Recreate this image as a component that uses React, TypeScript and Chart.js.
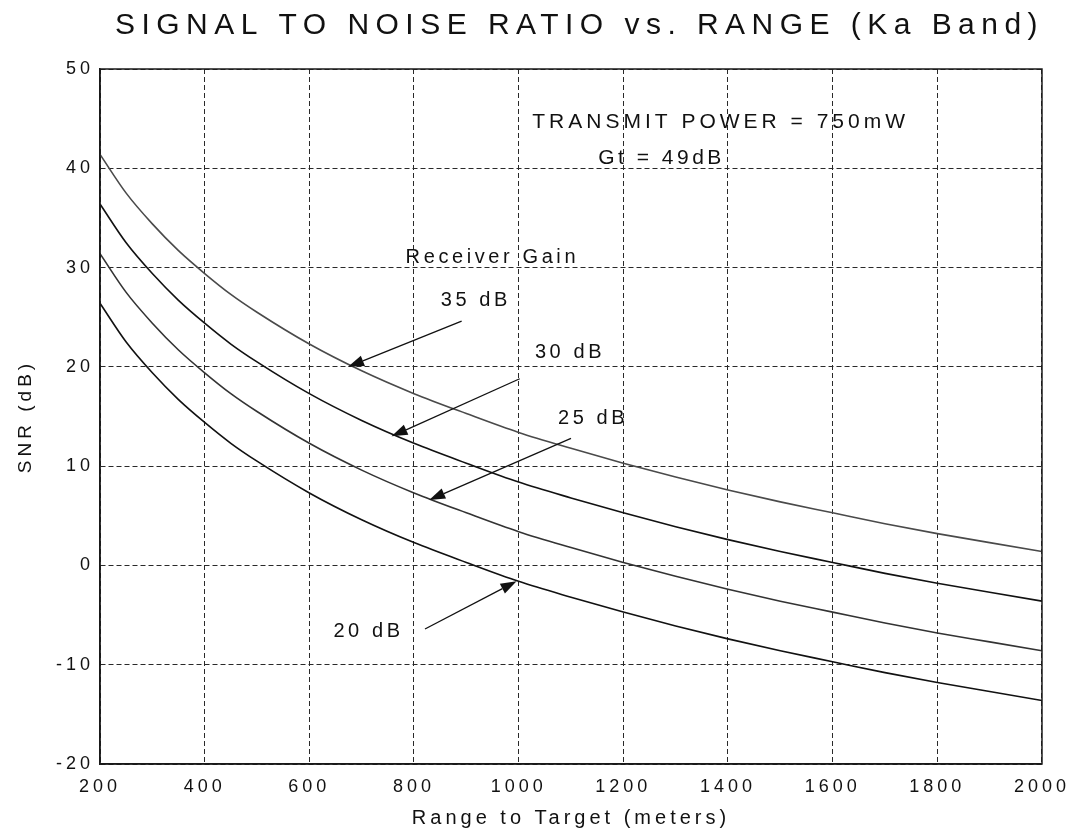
import React, { useEffect, useRef } from "react";
import { Chart, registerables } from "chart.js";

Chart.register(...registerables);

// ---- data ----
const ranges = [200, 250, 300, 350, 400, 450, 500, 600, 700, 800, 900, 1000, 1100, 1200, 1300, 1400, 1500, 1600, 1700, 1800, 1900, 2000];
const snr35 = [41.4, 37.5, 34.4, 31.7, 29.4, 27.3, 25.5, 22.3, 19.6, 17.3, 15.3, 13.4, 11.8, 10.3, 8.9, 7.6, 6.4, 5.3, 4.2, 3.2, 2.3, 1.4];
const snr30 = [36.4, 32.5, 29.4, 26.7, 24.4, 22.3, 20.5, 17.3, 14.6, 12.3, 10.3, 8.4, 6.8, 5.3, 3.9, 2.6, 1.4, 0.3, -0.8, -1.8, -2.7, -3.6];
const snr25 = [31.4, 27.5, 24.4, 21.7, 19.4, 17.3, 15.5, 12.3, 9.6, 7.3, 5.3, 3.4, 1.8, 0.3, -1.1, -2.4, -3.6, -4.7, -5.8, -6.8, -7.7, -8.6];
const snr20 = [26.4, 22.5, 19.4, 16.7, 14.4, 12.3, 10.5, 7.3, 4.6, 2.3, 0.3, -1.6, -3.2, -4.7, -6.1, -7.4, -8.6, -9.7, -10.8, -11.8, -12.7, -13.6];

const xTickValues = [200, 400, 600, 800, 1000, 1200, 1400, 1600, 1800, 2000];
const yTickValues = [-20, -10, 0, 10, 20, 30, 40, 50];

const titleText = "SIGNAL TO NOISE RATIO vs. RANGE (Ka Band)";
const xTitle = "Range to Target (meters)";
const yTitle = "SNR (dB)";

// annotation texts, anchored in data coordinates (left edge, vertical middle)
const noteTexts = ["TRANSMIT POWER = 750mW", "Gt = 49dB", "Receiver Gain", "35 dB", "30 dB", "25 dB", "20 dB"];
const noteRanges = [1026, 1152, 784, 851, 1031, 1075, 646];
const noteSnrs = [44.6, 41.0, 31.0, 26.7, 21.4, 14.8, -6.7];
const noteSizes = [21, 21, 20, 20, 20, 20, 20];
const noteSpacing = [4, 3.5, 3.6, 3.6, 3.6, 3.6, 3.6];

// arrows: tail -> tip in data coordinates
const arrowFromR = [891, 1002, 1100, 821];
const arrowFromV = [24.6, 18.8, 12.8, -6.4];
const arrowToR = [674, 757, 829, 996];
const arrowToV = [20.0, 13.0, 6.6, -1.6];

const FONT = '"Liberation Sans", Arial, Helvetica, sans-serif';

const sketchPlugin = {
  id: "sketch",
  beforeDraw(chart: any) {
    const ctx = chart.ctx;
    ctx.fillStyle = "#ffffff";
    ctx.fillRect(0, 0, chart.width, chart.height);
    ctx.letterSpacing = "4px";
  },
  afterDraw(chart: any) {
    const ctx = chart.ctx;
    const a = chart.chartArea;
    const xs = chart.scales.x;
    const ys = chart.scales.y;
    ctx.save();
    ctx.letterSpacing = "0px";
    ctx.setLineDash([]);
    // solid frame
    ctx.strokeStyle = "#1a1a1a";
    ctx.lineWidth = 1.5;
    ctx.strokeRect(a.left, a.top, a.right - a.left, a.bottom - a.top);

    // title
    ctx.fillStyle = "#111";
    ctx.font = `30px ${FONT}`;
    ctx.textAlign = "left";
    ctx.textBaseline = "alphabetic";
    const w0 = ctx.measureText(titleText).width;
    const sp = (929 - w0) / titleText.length;
    ctx.letterSpacing = `${sp}px`;
    ctx.fillText(titleText, 115, 34);

    // notes
    ctx.textBaseline = "middle";
    for (let i = 0; i < noteTexts.length; i++) {
      ctx.font = `${noteSizes[i]}px ${FONT}`;
      ctx.letterSpacing = `${noteSpacing[i]}px`;
      ctx.fillText(noteTexts[i], xs.getPixelForValue(noteRanges[i]), ys.getPixelForValue(noteSnrs[i]));
    }

    // arrows
    ctx.letterSpacing = "0px";
    ctx.strokeStyle = "#111";
    ctx.lineWidth = 1.3;
    for (let i = 0; i < arrowFromR.length; i++) {
      const x0 = xs.getPixelForValue(arrowFromR[i]);
      const y0 = ys.getPixelForValue(arrowFromV[i]);
      const x1 = xs.getPixelForValue(arrowToR[i]);
      const y1 = ys.getPixelForValue(arrowToV[i]);
      const dx = x1 - x0;
      const dy = y1 - y0;
      const len = Math.hypot(dx, dy);
      const ux = dx / len;
      const uy = dy / len;
      const head = 16;
      const half = 5.5;
      const bx = x1 - ux * head;
      const by = y1 - uy * head;
      ctx.beginPath();
      ctx.moveTo(x0, y0);
      ctx.lineTo(bx, by);
      ctx.stroke();
      ctx.beginPath();
      ctx.moveTo(x1, y1);
      ctx.lineTo(bx - uy * half, by + ux * half);
      ctx.lineTo(bx + uy * half, by - ux * half);
      ctx.closePath();
      ctx.fill();
    }
    ctx.restore();
  },
};

export default function App() {
  const ref = useRef<HTMLCanvasElement | null>(null);

  useEffect(() => {
    if (!ref.current) return;
    const mk = (label: string, data: number[], color: string) => ({
      label,
      data: ranges.map((r, i) => ({ x: r, y: data[i] })),
      borderColor: color,
      backgroundColor: color,
      borderWidth: 1.6,
      pointRadius: 0,
      cubicInterpolationMode: "monotone" as const,
      fill: false,
    });
    const chart = new Chart(ref.current, {
      type: "line",
      data: {
        datasets: [
          mk("35 dB", snr35, "#4a4a4a"),
          mk("30 dB", snr30, "#111111"),
          mk("25 dB", snr25, "#333333"),
          mk("20 dB", snr20, "#111111"),
        ],
      },
      options: {
        animation: false,
        responsive: false,
        devicePixelRatio: 1,
        layout: { padding: { top: 69, right: 29, left: 0, bottom: 0 } },
        plugins: {
          legend: { display: false },
          tooltip: { enabled: false },
          title: { display: false },
        },
        scales: {
          x: {
            type: "linear",
            min: 200,
            max: 2000,
            afterFit: (s: any) => {
              s.height = 74;
            },
            afterBuildTicks: (s: any) => {
              s.ticks = xTickValues.map((v) => ({ value: v }));
            },
            ticks: {
              autoSkip: false,
              maxRotation: 0,
              padding: 12,
              color: "#111",
              font: { family: FONT, size: 18 },
              callback: (v: any) => String(v),
            },
            grid: { color: "#2a2a2a", lineWidth: 1, drawTicks: false },
            border: { display: true, color: "#1a1a1a", width: 1.5, dash: [5, 3] },
            title: {
              display: true,
              text: xTitle,
              color: "#111",
              font: { family: FONT, size: 20 },
              padding: { top: 0, bottom: 8 },
            },
          },
          y: {
            type: "linear",
            min: -20,
            max: 50,
            afterFit: (s: any) => {
              s.width = 100;
            },
            afterBuildTicks: (s: any) => {
              s.ticks = yTickValues.map((v) => ({ value: v }));
            },
            ticks: {
              padding: 6,
              color: "#111",
              font: { family: FONT, size: 18 },
              callback: (v: any) => String(v),
            },
            grid: { color: "#2a2a2a", lineWidth: 1, drawTicks: false },
            border: { display: true, color: "#1a1a1a", width: 1.5, dash: [5, 3] },
            title: {
              display: true,
              text: yTitle,
              color: "#111",
              font: { family: FONT, size: 19 },
              padding: { top: 14, bottom: 0 },
            },
          },
        },
      },
      plugins: [sketchPlugin],
    });
    return () => chart.destroy();
  }, []);

  return (
    <div style={{ position: "fixed", left: 0, top: 0, width: 1074, height: 838, background: "#fff" }}>
      <canvas ref={ref} width={1074} height={838} style={{ display: "block", width: 1074, height: 838 }} />
    </div>
  );
}
